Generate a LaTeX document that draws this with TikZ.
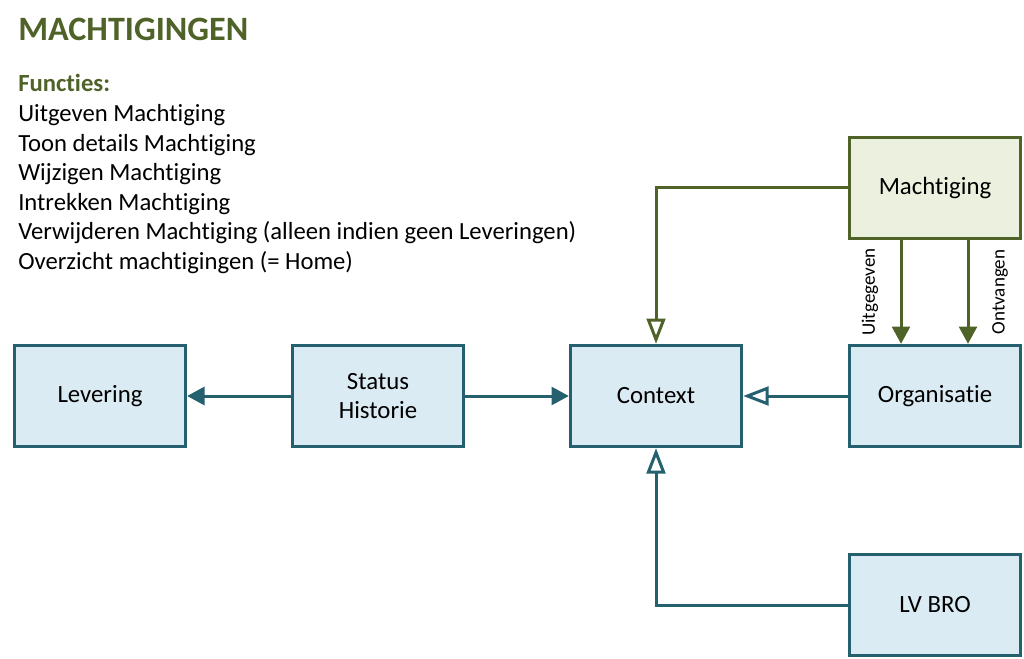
\documentclass[tikz,border=0pt]{standalone}
\usepackage{fontspec}
\setmainfont{Carlito}[Ligatures=NoCommon]
\usetikzlibrary{arrows.meta}
\definecolor{teal}{HTML}{24606E}
\definecolor{lblue}{HTML}{DBEBF3}
\definecolor{olive}{HTML}{4F6228}
\definecolor{lgreen}{HTML}{EBF1DE}
\tikzset{
  box/.style={draw=teal, fill=lblue, line width=2.25pt, minimum width=128.5pt, minimum height=76pt, align=center, inner sep=0pt, font=\fontsize{18.6}{22}\selectfont},
  gbox/.style={box, draw=olive, fill=lgreen},
  conn/.style={draw=teal, line width=2.25pt},
  gconn/.style={draw=olive, line width=2.25pt},
  filled/.style={-{Triangle[length=13pt,width=13.5pt]}},
  hollow/.style={-{Triangle[open,length=19pt,width=14pt,fill=white]}},
  body/.style={anchor=base west, inner sep=0pt, font=\fontsize{18.5}{22}\selectfont},
  vlab/.style={rotate=90, inner sep=0pt, font=\fontsize{14.3}{17}\selectfont}
}
\begin{document}
\begin{tikzpicture}[x=0.75pt,y=-0.75pt]
\useasboundingbox (0,0) rectangle (1024,659);
\node[anchor=base west, inner sep=0pt, text=olive, font=\fontsize{25.6}{30}\selectfont\bfseries] (title) at (18,41) {MACHTIGINGEN};
\node[body, text=olive, font=\fontsize{18.5}{22}\selectfont\bfseries] (fun) at (18,92) {Functies:};
\node[body] (l1) at (18,122) {Uitgeven Machtiging};
\node[body] (l2) at (18,151.5) {Toon details Machtiging};
\node[body] (l3) at (18,181) {Wijzigen Machtiging};
\node[body] (l4) at (18,210.5) {Intrekken Machtiging};
\node[body] (l5) at (18,240) {Verwijderen Machtiging (alleen indien geen Leveringen)};
\node[body] (l6) at (18,269.5) {Overzicht machtigingen (= Home)};

\node[box] (lev) at (100,396) {Levering};
\node[box] (sh) at (378,396) {Status\\Historie};
\node[box] (ctx) at (656,396) {Context};
\node[box] (org) at (935,396) {Organisatie};
\node[gbox] (mach) at (935,188) {Machtiging};
\node[box] (lv) at (935,605) {LV BRO};

\draw[conn, filled] (sh.west) -- (lev.east);
\draw[conn, filled] (sh.east) -- (ctx.west);
\draw[conn, hollow] (org.west) -- (ctx.east);
\draw[conn, hollow] (lv.west) -| (ctx.south);
\draw[gconn, hollow, draw=olive] (mach.west) -| (ctx.north);
\draw[gconn, filled] (mach.south -| 901,0) -- (org.north -| 901,0);
\draw[gconn, filled] (mach.south -| 968,0) -- (org.north -| 968,0);
\node[vlab] (uit) at (870,292) {Uitgegeven};
\node[vlab] (ont) at (1000,292) {Ontvangen};
\end{tikzpicture}
\end{document}
